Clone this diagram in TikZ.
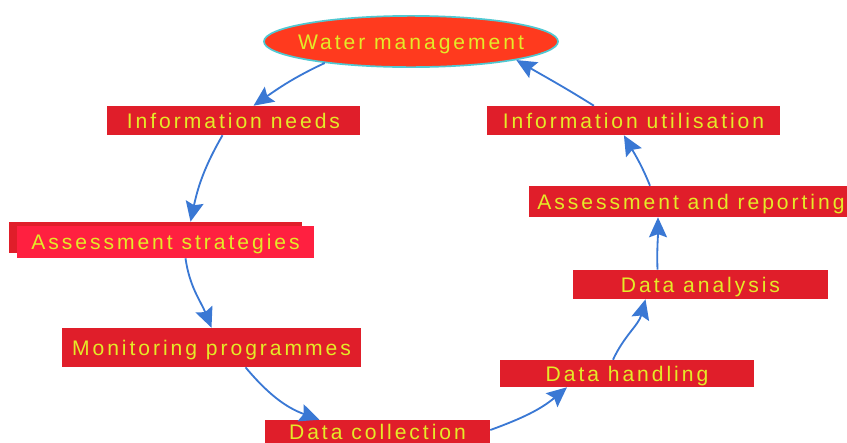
\documentclass[tikz,border=0pt]{standalone}
\usepackage{fontspec}
\setmainfont{Liberation Sans}[LetterSpace=14]
\usetikzlibrary{arrows.meta, shapes.geometric}

\definecolor{boxred}{RGB}{224,30,42}
\definecolor{boxpink}{RGB}{255,32,64}
\definecolor{ovalred}{RGB}{255,58,30}
\definecolor{ovalrim}{RGB}{80,200,210}
\definecolor{labelyellow}{RGB}{228,234,40}
\definecolor{flowblue}{RGB}{58,120,212}

\begin{document}
\begin{tikzpicture}[x=0.025cm, y=-0.025cm,
  stage/.style={rectangle, fill=boxred, text=labelyellow, inner sep=0pt, text height=10.7pt, text depth=0pt, font=\fontsize{15}{17}\selectfont},
  flow/.style={-{Stealth[length=5mm, width=4.5mm, inset=0.8mm]}, draw=flowblue, line width=1.3pt}]

\useasboundingbox (0,0) rectangle (847,442);
\clip (0,0) rectangle (847,442);

% STAGES
\node[ellipse, fill=ovalred, draw=ovalrim, line width=1.2pt, minimum width=7.35cm, minimum height=1.28cm, text=labelyellow, inner xsep=-0.3cm, inner ysep=0pt, text height=10.7pt, text depth=0pt, font=\fontsize{15}{17}\selectfont] (waterMgmt) at (411,41.5) {Water management};
\node[stage, minimum width=6.325cm, minimum height=0.725cm] (infoNeeds) at (233.5,120.5) {Information needs};
\node[stage, minimum width=7.325cm, minimum height=0.775cm] (assessStratShadow) at (155.5,237.5) {};
\node[stage, fill=boxpink, minimum width=7.425cm, minimum height=0.8cm] (assessStrat) at (165.5,242) {Assessment strategies};
\node[stage, minimum width=7.475cm, minimum height=0.975cm] (monitoring) at (211.5,347.5) {Monitoring programmes};
\node[stage, minimum width=5.625cm, minimum height=0.6cm] (dataColl) at (377.5,432) {Data collection};
\node[stage, minimum width=6.35cm, minimum height=0.675cm] (dataHandling) at (627,373.5) {Data handling};
\node[stage, minimum width=6.375cm, minimum height=0.725cm] (dataAnalysis) at (700.5,284.5) {Data analysis};
\node[stage, minimum width=8.1cm, minimum height=0.775cm] (assessReport) at (691,201.5) {Assessment and reporting};
\node[stage, minimum width=7.325cm, minimum height=0.725cm] (infoUtil) at (633.5,120.5) {Information utilisation};

% CURVED ARROWS
\draw[flow] (waterMgmt.194) to [out=205,in=35] ([xshift=0.5cm]infoNeeds.north);
\draw[flow] ([xshift=-0.275cm]infoNeeds.south) to [out=-120,in=78] ([xshift=0.875cm]assessStratShadow.north);
\draw[flow] ([xshift=0.5cm]assessStrat.south) to [out=-82,in=112] (monitoring.north);
\draw[flow] ([xshift=0.85cm]monitoring.south) to [out=-50,in=160] ([xshift=-1.45cm]dataColl.north);
\draw[flow] ([yshift=0.05cm]dataColl.east) to [out=20,in=220] ([xshift=-1.5cm]dataHandling.south);
\draw[flow] ([xshift=-0.35cm]dataHandling.north) to [out=65,in=-105] ([xshift=-1.375cm]dataAnalysis.south);
\draw[flow] ([xshift=-1.075cm]dataAnalysis.north) to [out=92,in=-90] ([xshift=-0.825cm]assessReport.south);
\draw[flow] ([xshift=-1.025cm]assessReport.north) to [out=112,in=-60] ([xshift=-0.24cm]infoUtil.south);
\draw[flow] ([xshift=-0.99cm]infoUtil.north) to [out=148,in=-30] (waterMgmt.-10);

\end{tikzpicture}
\end{document}
